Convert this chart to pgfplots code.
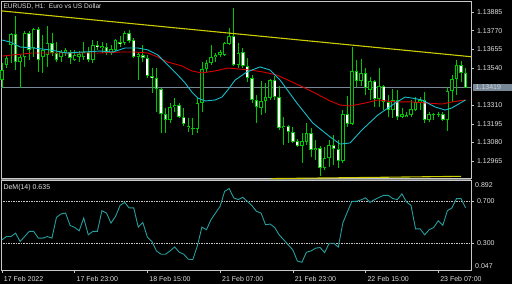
\documentclass[border=0pt]{standalone}
\usepackage{fontspec}
\setmainfont{Liberation Sans}
\usepackage{pgfplots}
\pgfplotsset{compat=1.18}
\usepackage{pgfplotstable}
\definecolor{cgreen}{RGB}{0,200,0}
\definecolor{cred}{RGB}{215,0,0}
\definecolor{ccyan}{RGB}{20,190,205}
\definecolor{cteal}{RGB}{38,158,158}
\definecolor{cyellow}{RGB}{205,205,0}
\definecolor{cslate}{RGB}{119,136,153}
\definecolor{cboxtext}{RGB}{205,210,215}
\definecolor{ctext}{RGB}{225,225,225}
\definecolor{cframe}{RGB}{200,200,200}
\newcommand{\cf}{\fontsize{7}{8}\selectfont}
\newcommand{\tf}{\fontsize{6.6}{8}\selectfont}

\pgfplotstableread{
i O H L C
0 1.13465 1.13570 1.13416 1.13527
1 1.13558 1.13613 1.13539 1.13601
2 1.13681 1.13755 1.13570 1.13749
3 1.13749 1.13860 1.13527 1.13576
4 1.13576 1.13620 1.13416 1.13607
5 1.13607 1.13768 1.13546 1.13755
6 1.13755 1.13768 1.13589 1.13651
7 1.13663 1.13786 1.13607 1.13780
8 1.13780 1.13792 1.13515 1.13589
9 1.13607 1.13743 1.13509 1.13651
10 1.13620 1.13799 1.13546 1.13694
11 1.13694 1.13755 1.13613 1.13632
12 1.13632 1.13700 1.13576 1.13589
13 1.13607 1.13651 1.13576 1.13638
14 1.13632 1.13663 1.13613 1.13651
15 1.13638 1.13651 1.13564 1.13601
16 1.13589 1.13651 1.13583 1.13620
17 1.13607 1.13644 1.13576 1.13626
18 1.13607 1.13700 1.13589 1.13638
19 1.13638 1.13669 1.13576 1.13589
20 1.13589 1.13712 1.13570 1.13681
21 1.13681 1.13706 1.13651 1.13669
22 1.13663 1.13700 1.13632 1.13675
23 1.13669 1.13694 1.13620 1.13632
24 1.13632 1.13681 1.13620 1.13657
25 1.13651 1.13718 1.13644 1.13712
26 1.13700 1.13737 1.13669 1.13688
27 1.13694 1.13768 1.13681 1.13755
28 1.13755 1.13774 1.13694 1.13706
29 1.13712 1.13725 1.13601 1.13607
30 1.13607 1.13638 1.13465 1.13626
31 1.13620 1.13681 1.13576 1.13601
32 1.13601 1.13620 1.13478 1.13490
33 1.13490 1.13539 1.13385 1.13478
34 1.13478 1.13539 1.13268 1.13410
35 1.13410 1.13416 1.13138 1.13256
36 1.13256 1.13293 1.13138 1.13219
37 1.13219 1.13323 1.13200 1.13299
38 1.13299 1.13354 1.13268 1.13311
39 1.13311 1.13323 1.13231 1.13237
40 1.13237 1.13293 1.13182 1.13194
41 1.13169 1.13231 1.13145 1.13182
42 1.13169 1.13231 1.13126 1.13163
43 1.13163 1.13354 1.13138 1.13323
44 1.13323 1.13576 1.13268 1.13533
45 1.13533 1.13589 1.13515 1.13570
46 1.13570 1.13681 1.13558 1.13607
47 1.13607 1.13632 1.13576 1.13620
48 1.13620 1.13651 1.13607 1.13638
49 1.13620 1.13700 1.13613 1.13694
50 1.13688 1.13786 1.13681 1.13737
51 1.13737 1.13910 1.13552 1.13558
52 1.13558 1.13694 1.13539 1.13632
53 1.13638 1.13663 1.13539 1.13552
54 1.13552 1.13601 1.13453 1.13478
55 1.13478 1.13496 1.13323 1.13342
56 1.13342 1.13373 1.13200 1.13299
57 1.13293 1.13459 1.13249 1.13336
58 1.13336 1.13447 1.13262 1.13360
59 1.13354 1.13472 1.13342 1.13465
60 1.13465 1.13490 1.13342 1.13360
61 1.13360 1.13428 1.13157 1.13169
62 1.13169 1.13237 1.13064 1.13182
63 1.13182 1.13188 1.13077 1.13145
64 1.13145 1.13175 1.13077 1.13083
65 1.13089 1.13101 1.13052 1.13058
66 1.13058 1.13138 1.12953 1.13089
67 1.13083 1.13200 1.13064 1.13138
68 1.13138 1.13169 1.12990 1.13034
69 1.13034 1.13095 1.12972 1.13046
70 1.13046 1.13058 1.12873 1.12922
71 1.12922 1.13052 1.12910 1.12984
72 1.12984 1.13095 1.12929 1.13064
73 1.13064 1.13126 1.12941 1.13040
74 1.13040 1.13095 1.12922 1.12966
75 1.12966 1.13280 1.12953 1.13256
76 1.13256 1.13367 1.13175 1.13194
77 1.13194 1.13669 1.13188 1.13521
78 1.13521 1.13589 1.13422 1.13459
79 1.13459 1.13595 1.13428 1.13509
80 1.13509 1.13539 1.13373 1.13416
81 1.13404 1.13484 1.13342 1.13459
82 1.13459 1.13465 1.13299 1.13348
83 1.13348 1.13539 1.13299 1.13428
84 1.13428 1.13434 1.13280 1.13330
85 1.13330 1.13373 1.13237 1.13280
86 1.13280 1.13410 1.13231 1.13342
87 1.13342 1.13404 1.13219 1.13237
88 1.13237 1.13293 1.13231 1.13256
89 1.13237 1.13268 1.13237 1.13249
90 1.13249 1.13342 1.13237 1.13286
91 1.13280 1.13360 1.13274 1.13330
92 1.13330 1.13360 1.13280 1.13342
93 1.13342 1.13391 1.13200 1.13219
94 1.13219 1.13268 1.13206 1.13256
95 1.13249 1.13262 1.13219 1.13256
96 1.13249 1.13268 1.13237 1.13256
97 1.13256 1.13268 1.13212 1.13219
98 1.13219 1.13422 1.13151 1.13397
99 1.13397 1.13496 1.13330 1.13472
100 1.13472 1.13589 1.13373 1.13558
101 1.13558 1.13583 1.13453 1.13509
102 1.13509 1.13539 1.13416 1.13419
}\candles

\pgfplotstableread{
i p
0 1.13613
6.8 1.13632
14.3 1.13632
21.6 1.13632
26.0 1.13638
29.3 1.13638
32.1 1.13632
34.3 1.13607
36.5 1.13576
39.6 1.13552
41.8 1.13521
44.0 1.13509
46.9 1.13521
49.7 1.13539
54.6 1.13527
57.4 1.13515
60.5 1.13496
63.4 1.13459
66.2 1.13422
69.3 1.13379
72.2 1.13336
74.4 1.13311
76.6 1.13305
79.9 1.13323
82.7 1.13342
86.5 1.13330
90.2 1.13330
93.7 1.13323
96.8 1.13317
99.0 1.13330
102 1.13342
}\redma

\pgfplotstableread{
i p
0 1.13712
1.8 1.13700
4.0 1.13669
6.8 1.13663
10.6 1.13651
14.3 1.13632
17.8 1.13638
21.6 1.13644
24.4 1.13638
27.1 1.13663
29.9 1.13663
32.1 1.13651
34.3 1.13620
36.5 1.13558
38.7 1.13496
40.3 1.13447
41.8 1.13391
43.1 1.13354
44.7 1.13336
46.9 1.13342
48.4 1.13360
49.7 1.13404
51.3 1.13465
53.9 1.13515
56.8 1.13546
59.0 1.13527
61.2 1.13465
64.9 1.13323
68.4 1.13200
72.2 1.13114
74.4 1.13070
76.6 1.13077
79.2 1.13157
82.7 1.13249
86.5 1.13323
88.7 1.13360
90.2 1.13354
92.4 1.13342
95.3 1.13299
97.5 1.13280
99.0 1.13293
102 1.13342
}\cyanma

\pgfplotstableread{
i v
0 0.332
1 0.363
2 0.363
3 0.395
4 0.316
5 0.363
6 0.411
7 0.411
8 0.348
9 0.348
10 0.363
11 0.348
12 0.544
13 0.576
14 0.585
15 0.468
16 0.449
17 0.417
18 0.538
19 0.379
20 0.411
21 0.411
22 0.607
23 0.585
24 0.490
25 0.553
26 0.657
27 0.686
28 0.633
29 0.633
30 0.452
31 0.496
32 0.357
33 0.316
34 0.227
35 0.196
36 0.196
37 0.227
38 0.265
39 0.215
40 0.196
41 0.149
42 0.145
43 0.275
44 0.452
45 0.427
46 0.522
47 0.585
48 0.648
49 0.790
50 0.816
51 0.728
52 0.712
53 0.733
54 0.695
55 0.655
56 0.601
57 0.585
58 0.474
59 0.481
60 0.449
61 0.379
62 0.332
63 0.284
64 0.237
65 0.132
66 0.120
67 0.215
68 0.227
69 0.253
70 0.259
71 0.211
72 0.300
73 0.300
74 0.263
75 0.490
76 0.595
77 0.695
78 0.695
79 0.709
80 0.728
81 0.686
82 0.712
83 0.733
84 0.752
85 0.752
86 0.721
87 0.712
88 0.766
89 0.690
90 0.657
91 0.436
92 0.436
93 0.379
94 0.427
95 0.449
96 0.512
97 0.468
98 0.607
99 0.633
100 0.721
101 0.721
102 0.635
}\dem

\pgfplotsset{
  mtbase/.style={scale only axis, width=470pt, xmin=-0.2, xmax=103.2, anchor=south west,
    axis line style={cframe, line width=0.8pt},
    tick style={cframe, line width=0.6pt},
    tick align=outside, major tick length=2.5pt,
    ticklabel style={font=\cf, text=ctext},
    clip=false},
  ebar/.style n args={2}{draw=none, mark=none, forget plot,
    error bars/.cd, y dir=plus, y explicit, error mark=none,
    error bar style={draw=#1, line width=#2, solid}},
}

\begin{document}
\begin{tikzpicture}
\useasboundingbox (0,0) rectangle (512pt,284pt);
\fill[black] (0,0) rectangle (512pt,284pt);
\fill[cframe!65!black] (1pt,103.5pt) rectangle (471pt,105.7pt);

\begin{axis}[mtbase, at={(1pt,105.7pt)}, height=176.8pt,
  ymin=1.128589, ymax=1.139497,
  xtick=\empty,
  ytick pos=right, yticklabel pos=right,
  ytick={1.12965,1.13080,1.13195,1.13310,1.13540,1.13655,1.13770,1.13885},
  yticklabels={1.12965,1.13080,1.13195,1.13310,1.13540,1.13655,1.13770,1.13885},
  yticklabel style={anchor=west}]
  % bid line
  \addplot[cslate, line width=0.8pt, forget plot] coordinates {(-0.2,1.13419) (103.2,1.13419)};
  % wicks
  \addplot[ebar={cgreen}{0.8pt}] table[x=i, y=L, y error plus expr={\thisrow{H}-\thisrow{L}}] {\candles};
  % bodies (outline)
  \addplot[ebar={cgreen}{3.4pt}] table[x=i, y expr={min(\thisrow{O},\thisrow{C})}, y error plus expr={max(abs(\thisrow{O}-\thisrow{C}),0.00002)}] {\candles};
  % bear bodies fill
  \addplot[ebar={white}{1.8pt}] table[x=i, y expr={\thisrow{C}+0.00005}, y error plus expr={max(\thisrow{O}-\thisrow{C}-0.0001,0)}] {\candles};
  % bull bodies fill
  \addplot[ebar={black}{1.8pt}] table[x=i, y expr={\thisrow{O}+0.00005}, y error plus expr={max(\thisrow{C}-\thisrow{O}-0.0001,0)}] {\candles};
  % moving averages
  \addplot[cred, line width=0.9pt, mark=none] table[x=i, y=p] {\redma};
  \addplot[ccyan, line width=0.9pt, mark=none] table[x=i, y=p] {\cyanma};
  % trend lines
  \addplot[cyellow, line width=1.1pt, mark=none] coordinates {(-0.2,1.13892) (103.2,1.13609)};
  \addplot[cyellow, line width=1.1pt, mark=none] coordinates {(59.2,1.12857) (101.0,1.12871)};
  % bid label
  \node[fill=cslate, minimum width=39pt, minimum height=7pt, inner sep=0pt, anchor=west, xshift=2pt] at (axis cs:103.2,1.13419) {};
  \node[anchor=west, inner sep=0pt, font=\cf, text=cboxtext, xshift=4.5pt] at (axis cs:103.2,1.13419) {1.13419};
\end{axis}

\begin{axis}[mtbase, at={(1pt,14pt)}, height=89.5pt,
  ymin=0.047, ymax=0.892,
  xtick={0,16,32,48,64,80,96},
  xticklabels={17 Feb 2022,17 Feb 23:00,18 Feb 15:00,21 Feb 07:00,21 Feb 23:00,22 Feb 15:00,23 Feb 07:00},
  xtick pos=left,
  xticklabel style={anchor=north west, xshift=-1.5pt},
  ytick pos=right, yticklabel pos=right,
  ytick={0.3,0.7}, yticklabels={0.300,0.700},
  yticklabel style={anchor=west}]
  \addplot[cframe, line width=0.6pt, dash pattern=on 1.5pt off 1pt, mark=none] coordinates {(-0.2,0.3) (103.2,0.3)};
  \addplot[cframe, line width=0.6pt, dash pattern=on 1.5pt off 1pt, mark=none] coordinates {(-0.2,0.7) (103.2,0.7)};
  \addplot[cteal, line width=0.9pt, mark=none] table[x=i, y=v] {\dem};
  \node[anchor=west, inner sep=0pt, font=\cf, text=ctext, xshift=4pt, yshift=-4.5pt] at (rel axis cs:1,1) {0.892};
  \node[anchor=west, inner sep=0pt, font=\cf, text=ctext, xshift=4pt, yshift=4pt] at (rel axis cs:1,0) {0.047};
\end{axis}

\node[anchor=west, inner sep=0pt, font=\tf, text=ctext] at (3.3pt,277.3pt) {EURUSD, H1:\ \ Euro vs US Dollar};
\node[anchor=west, inner sep=0pt, font=\cf, text=ctext] at (3.3pt,96.3pt) {DeM(14) 0.635};
\end{tikzpicture}
\end{document}
